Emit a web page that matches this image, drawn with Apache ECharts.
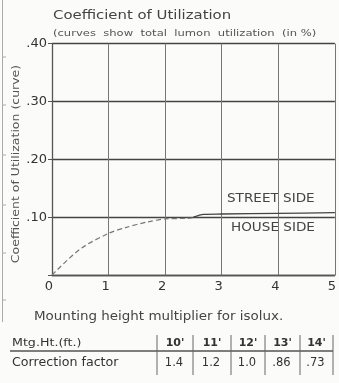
<!DOCTYPE html>
<html>
<head>
<meta charset="utf-8">
<script src="https://cdn.jsdelivr.net/npm/echarts@6/dist/echarts.min.js"></script>
<style>
  html, body { margin: 0; padding: 0; background: #fbfbf9; }
  #chart { width: 339px; height: 383px; }
</style>
</head>
<body>
<div id="chart"></div>
<script>
// Utilization curve: rising part (dashed) up to the house-side line
const riseCurve = [[0, 0], [0.5, 0.045], [1.0, 0.072], [1.3, 0.082], [1.7, 0.092], [2.0, 0.097], [2.4, 0.098], [2.55, 0.1]];
// Street side continuation (solid)
const streetSide = [[2.5, 0.1], [2.68, 0.105], [3.0, 0.1055], [4.0, 0.1065], [5.0, 0.108]];
// Axis ticks
const xTicks = [0, 1, 2, 3, 4, 5];
const yTicks = [0, 0.1, 0.2, 0.3, 0.4];
// Mounting height correction table
const mountHeights = ["10'", "11'", "12'", "13'", "14'"];
const correctionFactors = ['1.4', '1.2', '1.0', '.86', '.73'];

const FONT = '"DejaVu Sans", sans-serif';
const chart = echarts.init(document.getElementById('chart'));

// Text placed at (x, y), optionally stretched horizontally (letterpress look)
function label(text, x, y, font, opts) {
  opts = opts || {};
  return {
    type: 'text', x: x, y: y,
    scaleX: opts.sx || 1, rotation: opts.rot || 0,
    style: { text: text, x: 0, y: 0, font: font, fill: opts.fill || '#444',
      textAlign: opts.align || 'left', textVerticalAlign: 'middle' }
  };
}

// Table layout
const colEdges = [157, 193, 231, 265, 300, 333];
const tableEls = [
  label('Mtg.Ht.(ft.)', 12, 343, '11px ' + FONT, { sx: 1.15, fill: '#333' }),
  label('Correction factor', 12, 363, '11.5px ' + FONT, { sx: 1.1, fill: '#333' }),
  { type: 'line', shape: { x1: 10, y1: 351, x2: 333, y2: 351 }, style: { stroke: '#555', lineWidth: 1.3 } }
];
colEdges.forEach(x => tableEls.push({ type: 'line', shape: { x1: x, y1: 335, x2: x, y2: 375 }, style: { stroke: '#666', lineWidth: 1 } }));
mountHeights.forEach((h, i) => {
  const cx = (colEdges[i] + colEdges[i + 1]) / 2;
  tableEls.push(label(h, cx, 343, 'bold 11px ' + FONT, { align: 'center', fill: '#333' }));
  tableEls.push(label(correctionFactors[i], cx - 1, 363, '11.5px ' + FONT, { align: 'center', fill: '#333' }));
});

// Binding edge at the left margin
const edgeEls = [{ type: 'line', shape: { x1: 2.5, y1: 0, x2: 2.5, y2: 322 }, style: { stroke: '#aaa', lineWidth: 1 } }];
[57, 105, 155, 205, 253, 300].forEach(y => edgeEls.push({ type: 'line', shape: { x1: 2.5, y1: y, x2: 6, y2: y }, style: { stroke: '#aaa', lineWidth: 1 } }));

chart.setOption({
  backgroundColor: '#fbfbf9',
  animation: false,
  grid: { left: 52, top: 43.7, width: 288.5, height: 231.3 },
  xAxis: {
    type: 'value', min: xTicks[0], max: xTicks[xTicks.length - 1], interval: 1,
    axisLine: { show: true, lineStyle: { color: '#555', width: 1.3 } },
    axisTick: { show: false },
    splitLine: { show: true, lineStyle: { color: '#777', width: 1 } },
    axisLabel: { fontFamily: FONT, fontSize: 13, color: '#333', margin: 5, padding: [0, 6, 0, 0],
      formatter: v => xTicks.includes(v) ? String(v) : '' }
  },
  yAxis: {
    type: 'value', min: yTicks[0], max: yTicks[yTicks.length - 1], interval: 0.1,
    axisLine: { show: true, lineStyle: { color: '#555', width: 1.3 } },
    axisTick: { show: true, length: 4, lineStyle: { color: '#555' } },
    splitLine: { show: true, lineStyle: { color: '#444', width: 1.3 } },
    axisLabel: { fontFamily: FONT, fontSize: 13, color: '#333', margin: 5,
      formatter: v => v === 0 ? '' : '.' + String(Math.round(v * 100)).padStart(2, '0') }
  },
  series: [
    { name: 'House side', type: 'line', data: riseCurve, symbol: 'none', smooth: 0.3,
      lineStyle: { color: '#777', width: 1.2, type: [5, 3] } },
    { name: 'Street side', type: 'line', data: streetSide, symbol: 'none', smooth: 0.3,
      lineStyle: { color: '#444', width: 1.3 } }
  ],
  graphic: [
    label('Coefficient of Utilization', 53, 16, '12px ' + FONT, { sx: 1.24 }),
    label('(curves  show  total  lumon  utilization  (in %)', 53, 34, '8.5px ' + FONT, { sx: 1.36, fill: '#555' }),
    label('Coefficient of Utilization (curve)', 16, 164, '10.5px ' + FONT, { sx: 1.19, rot: Math.PI / 2, align: 'center', fill: '#555' }),
    label('STREET SIDE', 227, 199, '12px ' + FONT, { sx: 1.13 }),
    label('HOUSE SIDE', 231, 228, '12px ' + FONT, { sx: 1.13 }),
    label('Mounting height multiplier for isolux.', 34, 317, '11.5px ' + FONT, { sx: 1.17 }),
    ...tableEls,
    ...edgeEls
  ]
});
</script>
</body>
</html>
